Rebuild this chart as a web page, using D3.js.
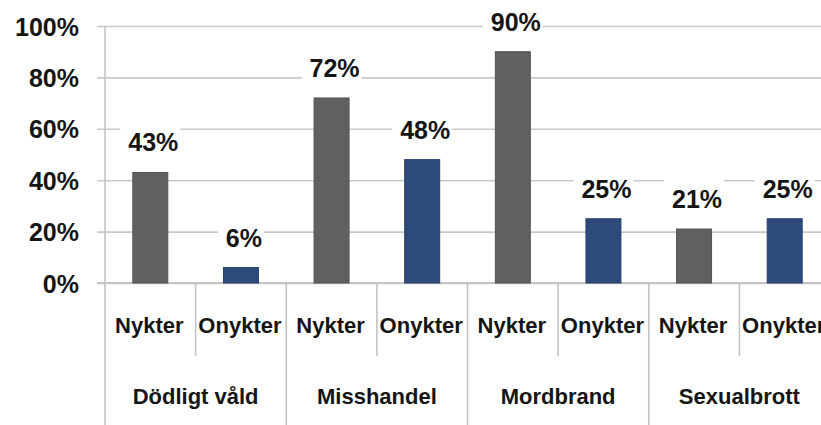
<!DOCTYPE html>
<html>
<head>
<meta charset="utf-8">
<script src="https://cdn.jsdelivr.net/npm/d3@7"></script>
<style>
  html, body { margin: 0; padding: 0; background: #fff; }
  svg { display: block; }
  text { font-family: "Liberation Sans", Arial, sans-serif; font-weight: bold; fill: #151515; }
</style>
</head>
<body>
<svg id="chart" width="821" height="425"></svg>
<script>
const groups = ["Dödligt våld", "Misshandel", "Mordbrand", "Sexualbrott"];
const series = ["Nykter", "Onykter"];
const nykter = [43, 72, 90, 21];
const onykter = [6, 48, 25, 25];
const yTicks = [0, 20, 40, 60, 80, 100];
const colors = ["#606060", "#2e4a7b"];

const data = [];
groups.forEach((g, i) => {
  data.push({ group: g, serie: series[0], value: nykter[i], si: 0 });
  data.push({ group: g, serie: series[1], value: onykter[i], si: 1 });
});

const svg = d3.select("#chart");
const W = 821, H = 425;
const mLeft = 105, mRight = 830, mTop = 26, mBottom = 283;

const x0 = d3.scaleBand().domain(groups).range([mLeft, mRight]).padding(0);
const x1 = d3.scaleBand().domain(series).range([0, x0.bandwidth()]).padding(0);
const y = d3.scaleLinear().domain([0, 100]).range([mBottom, mTop]);
const barW = x1.bandwidth() * 0.386;
const cx = d => x0(d.group) + x1(d.serie) + x1.bandwidth() / 2;

// gridlines + y axis ticks
const yAxis = d3.axisLeft(y).tickValues(yTicks).tickFormat(d => d + "%")
  .tickSize(-(W - mLeft)).tickPadding(0);
const ga = svg.append("g").attr("transform", `translate(${mLeft},0)`).call(yAxis);
ga.select(".domain").remove();
ga.selectAll(".tick line").attr("x1", -8).attr("stroke", "#c9c9c9").attr("stroke-width", 1.6);
ga.selectAll(".tick text").attr("x", -26).attr("dy", "0.36em")
  .style("font-size", "25px").style("fill", "#151515").style("font-family", "'Liberation Sans', Arial, sans-serif");

// baseline
svg.append("line").attr("x1", mLeft - 8).attr("x2", W).attr("y1", y(0)).attr("y2", y(0))
  .attr("stroke", "#c4c4c4").attr("stroke-width", 2.2);

// vertical axis line
svg.append("line").attr("x1", mLeft).attr("x2", mLeft).attr("y1", mTop).attr("y2", H)
  .attr("stroke", "#c4c4c4").attr("stroke-width", 1.6);

// category dividers
groups.forEach(g => {
  const gx = x0(g);
  svg.append("line").attr("x1", gx + x1(series[1])).attr("x2", gx + x1(series[1]))
    .attr("y1", y(0)).attr("y2", 356).attr("stroke", "#c4c4c4").attr("stroke-width", 1.6);
  svg.append("line").attr("x1", gx + x0.bandwidth()).attr("x2", gx + x0.bandwidth())
    .attr("y1", y(0)).attr("y2", H).attr("stroke", "#c4c4c4").attr("stroke-width", 1.6);
});

const bgG = svg.append("g");
const barG = svg.append("g");
const txtG = svg.append("g");

barG.selectAll("rect").data(data).join("rect")
  .attr("x", d => cx(d) - barW / 2)
  .attr("width", barW)
  .attr("y", d => y(d.value))
  .attr("height", d => y(0) - y(d.value))
  .attr("fill", d => colors[d.si])
  .attr("stroke", d => d3.color(colors[d.si]).darker(0.4))
  .attr("stroke-width", 1);

const texts = txtG.selectAll("text").data(data).join("text")
  .attr("x", d => cx(d) + 3)
  .attr("y", d => y(d.value) - 21)
  .attr("text-anchor", "middle")
  .style("font-size", "25px")
  .text(d => d.value + "%");

texts.each(function(d) {
  const bb = this.getBBox();
  const w = bb.width + 10;
  const base = y(d.value) - 21;
  bgG.append("rect")
    .attr("x", cx(d) - w / 2).attr("width", w)
    .attr("y", base - 31).attr("height", 37)
    .attr("fill", "#fff");
});

svg.append("g").selectAll("text").data(data).join("text")
  .attr("x", d => cx(d) - 1)
  .attr("y", 333)
  .attr("text-anchor", "middle")
  .style("font-size", "22px")
  .text(d => d.serie);

svg.append("g").selectAll("text").data(groups).join("text")
  .attr("x", d => x0(d) + x0.bandwidth() / 2)
  .attr("y", 404)
  .attr("text-anchor", "middle")
  .style("font-size", "22px")
  .text(d => d);
</script>
</body>
</html>
